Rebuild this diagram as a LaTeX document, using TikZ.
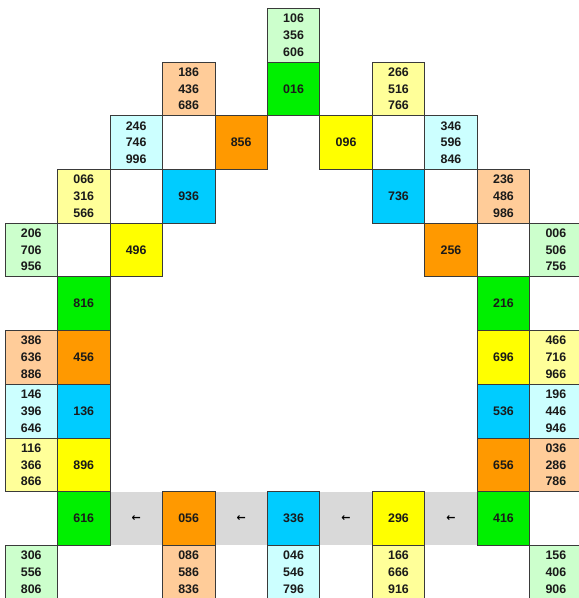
\documentclass[tikz,border=0pt]{standalone}
\usepackage{fontspec}
\setmainfont{Liberation Sans}
\newfontfamily\arrowfont{DejaVu Sans}
\definecolor{cgreen}{HTML}{00F000}
\definecolor{clgreen}{HTML}{CCFFCC}
\definecolor{corange}{HTML}{FF9900}
\definecolor{cpeach}{HTML}{FFCC99}
\definecolor{cblue}{HTML}{00CCFF}
\definecolor{clcyan}{HTML}{CCFFFF}
\definecolor{cyellow}{HTML}{FFFF00}
\definecolor{clyellow}{HTML}{FFFF99}
\definecolor{cgray}{HTML}{D9D9D9}
\definecolor{cborder}{HTML}{3A3A3A}
\definecolor{ctext}{HTML}{1A1A1A}
\tikzset{
  cellbox/.style={minimum width=52.47pt, minimum height=53.7pt, inner sep=0pt,
    draw=cborder, line width=0.7pt, align=center, text=ctext,
    font=\fontsize{12.4}{16.7}\selectfont\bfseries},
  gapbox/.style={minimum width=52.47pt, minimum height=53.7pt, inner sep=0pt,
    fill=cgray, text=black, font=\arrowfont\fontsize{11}{12}\selectfont\bfseries},
  green/.style={cellbox, fill=cgreen},
  lgreen/.style={cellbox, fill=clgreen},
  orange/.style={cellbox, fill=corange},
  peach/.style={cellbox, fill=cpeach},
  blue/.style={cellbox, fill=cblue},
  lcyan/.style={cellbox, fill=clcyan},
  yellow/.style={cellbox, fill=cyellow},
  lyellow/.style={cellbox, fill=clyellow}
}
\newcommand{\cellat}[5]{\node[#4] (#1) at ({5+52.47*(#2+0.5)},{-(8.3+53.7*(#3+0.5))}) {#5};}
\begin{document}
\begin{tikzpicture}[x=1pt,y=1pt]
\useasboundingbox (0,0) rectangle (579,-598);
\clip (0,0) rectangle (579,-598);
% gray arrow cells
\cellat{g1}{2}{9}{gapbox}{←}
\cellat{g2}{4}{9}{gapbox}{←}
\cellat{g3}{6}{9}{gapbox}{←}
\cellat{g4}{8}{9}{gapbox}{←}
% row 0
\cellat{n106}{5}{0}{lgreen}{106\\356\\606}
% row 1
\cellat{n186}{3}{1}{peach}{186\\436\\686}
\cellat{n016}{5}{1}{green}{016}
\cellat{n266}{7}{1}{lyellow}{266\\516\\766}
% row 2
\cellat{n246}{2}{2}{lcyan}{246\\746\\996}
\cellat{n856}{4}{2}{orange}{856}
\cellat{n096}{6}{2}{yellow}{096}
\cellat{n346}{8}{2}{lcyan}{346\\596\\846}
% row 3
\cellat{n066}{1}{3}{lyellow}{066\\316\\566}
\cellat{n936}{3}{3}{blue}{936}
\cellat{n736}{7}{3}{blue}{736}
\cellat{n236}{9}{3}{peach}{236\\486\\986}
% row 4
\cellat{n206}{0}{4}{lgreen}{206\\706\\956}
\cellat{n496}{2}{4}{yellow}{496}
\cellat{n256}{8}{4}{orange}{256}
\cellat{n006}{10}{4}{lgreen}{006\\506\\756}
% row 5
\cellat{n816}{1}{5}{green}{816}
\cellat{n216}{9}{5}{green}{216}
% row 6
\cellat{n386}{0}{6}{peach}{386\\636\\886}
\cellat{n456}{1}{6}{orange}{456}
\cellat{n696}{9}{6}{yellow}{696}
\cellat{n466}{10}{6}{lyellow}{466\\716\\966}
% row 7
\cellat{n146}{0}{7}{lcyan}{146\\396\\646}
\cellat{n136}{1}{7}{blue}{136}
\cellat{n536}{9}{7}{blue}{536}
\cellat{n196}{10}{7}{lcyan}{196\\446\\946}
% row 8
\cellat{n116}{0}{8}{lyellow}{116\\366\\866}
\cellat{n896}{1}{8}{yellow}{896}
\cellat{n656}{9}{8}{orange}{656}
\cellat{n036}{10}{8}{peach}{036\\286\\786}
% row 9
\cellat{n616}{1}{9}{green}{616}
\cellat{n056}{3}{9}{orange}{056}
\cellat{n336}{5}{9}{blue}{336}
\cellat{n296}{7}{9}{yellow}{296}
\cellat{n416}{9}{9}{green}{416}
% row 10
\cellat{n306}{0}{10}{lgreen}{306\\556\\806}
\cellat{n086}{3}{10}{peach}{086\\586\\836}
\cellat{n046}{5}{10}{lcyan}{046\\546\\796}
\cellat{n166}{7}{10}{lyellow}{166\\666\\916}
\cellat{n156}{10}{10}{lgreen}{156\\406\\906}
\end{tikzpicture}
\end{document}
